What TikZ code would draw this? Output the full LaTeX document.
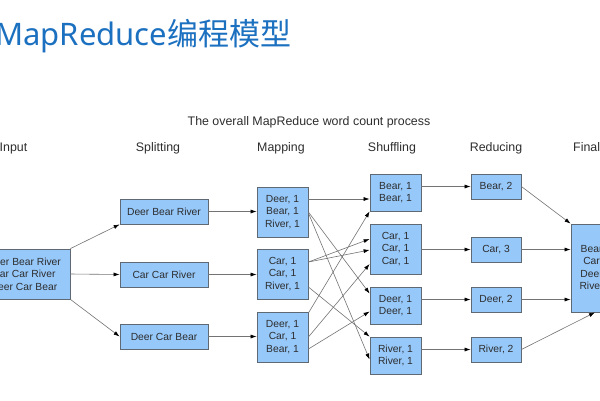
\documentclass[tikz,border=0pt]{standalone}
\usepackage{fontspec}
\setmainfont{Liberation Sans}
\newfontfamily\cjk{Noto Sans CJK SC}
\newfontfamily\latin{Noto Sans}
\usetikzlibrary{arrows.meta,calc}
\definecolor{titleblue}{RGB}{28,112,192}
\definecolor{boxfill}{RGB}{150,200,250}
\definecolor{boxline}{RGB}{95,105,115}
\definecolor{inkgray}{RGB}{45,45,45}
\definecolor{linegray}{RGB}{115,115,115}

\begin{document}
\begin{tikzpicture}[x=1pt, y=-1pt,
  box/.style={draw=boxline, fill=boxfill, line width=0.8pt, align=center, inner sep=0pt,
    text=inkgray, font=\fontsize{10.3}{12.5}\selectfont},
  head/.style={anchor=base, inner sep=0pt, text=inkgray, font=\fontsize{12.4}{14}\selectfont},
  arr/.style={draw=linegray, line width=0.6pt, -{Latex[length=6pt,width=4pt,color=black]}}]
  \useasboundingbox (0,0) rectangle (600,400);
  \clip (0,0) rectangle (600,400);

  \node[anchor=base west, inner sep=0pt, text=titleblue] (title) at (-5,45)
    {\fontsize{31}{31}\selectfont\latin MapReduce\cjk 编程模型};
  \node[head] (caption) at (309,125) {The overall MapReduce word count process};

  % column heads
  \node[head] (hinput) at (13.5,151) {Input};
  \node[head] (hsplit) at (158,151) {Splitting};
  \node[head] (hmap) at (281,151) {Mapping};
  \node[head] (hshuffle) at (392,151) {Shuffling};
  \node[head] (hreduce) at (496,151) {Reducing};
  \node[head, anchor=base west] (hfinal) at (573,151) {Final};

  % input and splitting
  \node[box, minimum width=92pt, minimum height=50pt] (input) at (24,274)
    {Deer Bear River\\Car Car River\\Deer Car Bear};
  \node[box, minimum width=88pt, minimum height=25pt] (sp1) at (164,211.5) {Deer Bear River};
  \node[box, minimum width=88pt, minimum height=25pt] (sp2) at (164,274.5) {Car Car River};
  \node[box, minimum width=88pt, minimum height=25pt] (sp3) at (164,336.5) {Deer Car Bear};

  % mapping
  \node[box, minimum width=51pt, minimum height=50pt] (m1) at (282.5,212) {Deer, 1\\Bear, 1\\River, 1};
  \node[box, minimum width=51pt, minimum height=50pt] (m2) at (282.5,274) {Car, 1\\Car, 1\\River, 1};
  \node[box, minimum width=51pt, minimum height=50pt] (m3) at (282.5,337) {Deer, 1\\Car, 1\\Bear, 1};

  % shuffling
  \node[box, minimum width=51pt, minimum height=37pt] (s1) at (395.5,192.5) {Bear, 1\\Bear, 1};
  \node[box, minimum width=51pt, minimum height=50pt] (s2) at (395.5,249) {Car, 1\\Car, 1\\Car, 1};
  \node[box, minimum width=51pt, minimum height=37pt] (s3) at (395.5,305.5) {Deer, 1\\Deer, 1};
  \node[box, minimum width=51pt, minimum height=37pt] (s4) at (395.5,355.5) {River, 1\\River, 1};

  % reducing
  \node[box, minimum width=50pt, minimum height=25pt] (r1) at (496,186.5) {Bear, 2};
  \node[box, minimum width=50pt, minimum height=25pt] (r2) at (496,249.5) {Car, 3};
  \node[box, minimum width=50pt, minimum height=25pt] (r3) at (496,299.5) {Deer, 2};
  \node[box, minimum width=50pt, minimum height=25pt] (r4) at (496,349.5) {River, 2};

  \node[box, minimum width=52pt, minimum height=88pt] (final) at (597,268)
    {Bear, 2\\Car, 3\\Deer, 2\\River, 2};

  \draw[arr] (input.north east) -- (sp1.south west);
  \draw[arr] (input.east) -- (sp2.west);
  \draw[arr] (input.south east) -- (sp3.west);

  \draw[arr] (sp1.east) -- (sp1.east -| m1.west);
  \draw[arr] (sp2.east) -- (sp2.east -| m2.west);
  \draw[arr] (sp3.east) -- (sp3.east -| m3.west);

  \draw[arr] ([yshift=13pt]m1.east) -- ([yshift=13pt]m1.east -| s1.west);
  \draw[arr] (m1.east) -- ([yshift=12pt]s3.west);
  \draw[arr] ([yshift=-1pt]m1.east) -- ([yshift=-4pt]s4.west);
  \draw[arr] ([yshift=12pt]m2.east) -- ([yshift=10pt]s2.west);
  \draw[arr] ([yshift=12pt]m2.east) -- ([yshift=-1pt]s2.west);
  \draw[arr] ([yshift=-13pt]m2.east) -- (s4.north west);
  \draw[arr] ([yshift=24pt]m3.east) -- (s1.south west);
  \draw[arr] (m3.east) -- ([yshift=-15pt]s2.west);
  \draw[arr] ([yshift=-12pt]m3.east) -- ([yshift=-6pt]s3.west);

  \draw[arr] (r1.west -| s1.east) -- (r1.west);
  \draw[arr] (r2.west -| s2.east) -- (r2.west);
  \draw[arr] (r3.west -| s3.east) -- (r3.west);
  \draw[arr] (r4.west -| s4.east) -- (r4.west);

  \draw[arr] (r1.east) -- (final.north west);
  \draw[arr] (r2.east) -- (r2.east -| final.west);
  \draw[arr] (r3.east) -- (r3.east -| final.west);
  \draw[arr] (r4.east) -- ([xshift=-2pt]final.south);
\end{tikzpicture}
\end{document}
